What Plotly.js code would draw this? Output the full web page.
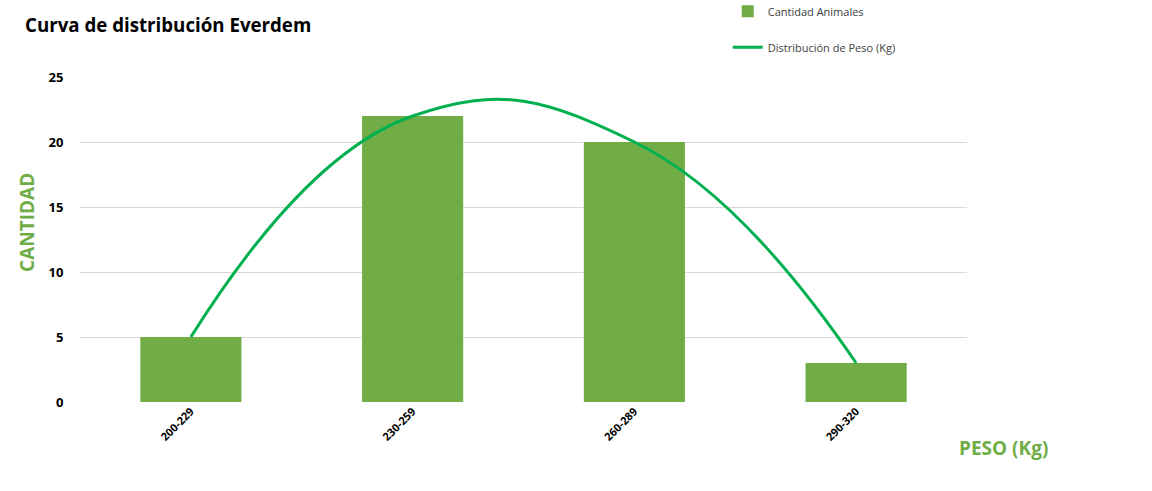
<!DOCTYPE html>
<html>
<head>
<meta charset="utf-8">
<script src="https://cdn.plot.ly/plotly-3.0.1.min.js"></script>
<style>html,body{margin:0;padding:0;background:#fff}#chart{width:1152px;height:491px}</style>
</head>
<body>
<div id="chart"></div>
<script>
const categories = ["200-229", "230-259", "260-289", "290-320"];
const cantidadAnimales = [5, 22, 20, 3];
const distribucionPeso = [5, 22, 20, 3];
const yTickValues = [0, 5, 10, 15, 20, 25];

const barColor = "#70AD47";
const lineColor = "#00B050";
const fontFam = "Open Sans, Noto Sans, sans-serif";

const traces = [
  {
    type: "bar",
    name: "Cantidad Animales",
    x: categories,
    y: cantidadAnimales,
    marker: {color: barColor},
    legendgroup: "a",
    hoverinfo: "x+y"
  },
  {
    type: "scatter",
    mode: "lines",
    name: "Distribución de Peso (Kg)",
    x: categories,
    y: distribucionPeso,
    line: {color: lineColor, width: 3, shape: "spline", smoothing: 1.3},
    legendgroup: "b",
    hoverinfo: "x+y"
  }
];

const layout = {
  width: 1152,
  height: 491,
  margin: {l: 80, r: 185, t: 77, b: 89, pad: 0, autoexpand: false},
  paper_bgcolor: "#ffffff",
  plot_bgcolor: "#ffffff",
  bargap: 0.544,
  font: {family: fontFam, color: "#000000"},
  title: {
    text: "Curva de distribución Everdem",
    font: {family: fontFam, size: 18.7, weight: "bold", color: "#000000"},
    x: 25 / 1152, xanchor: "left",
    y: 1 - 25 / 491, yanchor: "middle"
  },
  xaxis: {
    type: "category",
    range: [-0.5, 3.5],
    tickangle: -45,
    tickfont: {family: fontFam, size: 11, weight: "bold", color: "#000000"},
    showgrid: false,
    zeroline: false,
    showline: false,
    ticks: "",
    fixedrange: true
  },
  yaxis: {
    range: [0, 25],
    tickvals: yTickValues,
    tickfont: {family: fontFam, size: 13, weight: "bold", color: "#000000"},
    gridcolor: "#d9d9d9",
    gridwidth: 1,
    zeroline: false,
    showline: false,
    ticks: "outside",
    ticklen: 13,
    tickcolor: "rgba(0,0,0,0)",
    fixedrange: true
  },
  showlegend: true,
  legend: {
    x: (727 - 80) / 886,
    xanchor: "left",
    y: 1.247,
    yanchor: "top",
    traceorder: "grouped",
    tracegroupgap: 17,
    font: {family: fontFam, size: 11, color: "#404040"},
    bgcolor: "rgba(0,0,0,0)"
  },
  annotations: [
    {
      text: "CANTIDAD",
      xref: "paper", yref: "paper",
      x: (27 - 80) / 886, y: (402 - 222) / 325,
      xanchor: "center", yanchor: "middle",
      textangle: -90,
      showarrow: false,
      font: {family: fontFam, size: 19, weight: "bold", color: barColor}
    },
    {
      text: "PESO (Kg)",
      xref: "paper", yref: "paper",
      x: (1002 - 80) / 886, y: (402 - 448) / 325,
      xanchor: "center", yanchor: "middle",
      showarrow: false,
      font: {family: fontFam, size: 19, weight: "bold", color: barColor}
    }
  ]
};

Plotly.newPlot("chart", traces, layout, {displayModeBar: false, staticPlot: true});
</script>
</body>
</html>
